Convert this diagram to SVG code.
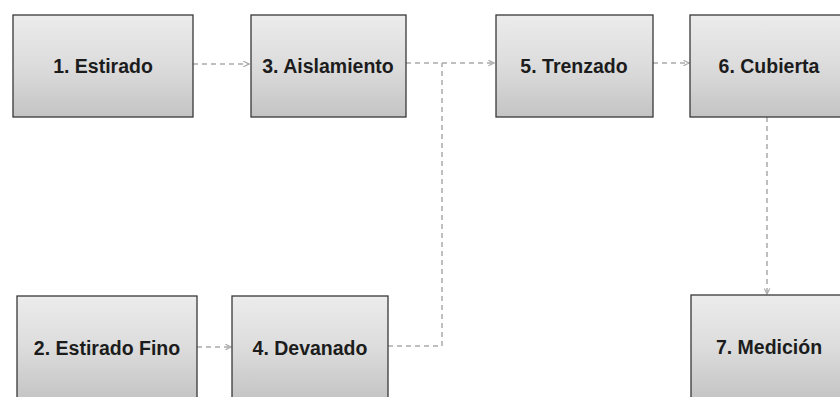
<svg xmlns="http://www.w3.org/2000/svg" width="840" height="397" viewBox="0 0 840 397">
<defs>
<linearGradient id="g" x1="0" y1="0" x2="0" y2="1">
<stop offset="0" stop-color="#ececec"/>
<stop offset="0.5" stop-color="#dcdcdc"/>
<stop offset="1" stop-color="#c4c4c4"/>
</linearGradient>
<marker id="arr" viewBox="0 0 10 10" refX="9" refY="5" markerWidth="7" markerHeight="7" markerUnits="userSpaceOnUse" orient="auto">
<path d="M1,1 L9,5 L1,9" fill="none" stroke="#a8a8a8" stroke-width="1.6"/>
</marker>
<style>
.box{fill:url(#g);stroke:#383838;stroke-width:1.3}
.lbl{font-family:"Liberation Sans",Arial,sans-serif;font-weight:bold;font-size:19.5px;fill:#1c1c1c;text-anchor:middle}
.con{fill:none;stroke:#ababab;stroke-width:1.5;stroke-dasharray:5 4}
</style>
</defs>
<rect width="840" height="397" fill="#ffffff"/>
<g id="connectors">
<path class="con" d="M193,64 L249,64" marker-end="url(#arr)"/>
<path class="con" d="M406,63 L494,63" marker-end="url(#arr)"/>
<path class="con" d="M388,346 L442,346 L442,63"/>
<path class="con" d="M653,63 L689,63" marker-end="url(#arr)"/>
<path class="con" d="M767,117 L767,294" marker-end="url(#arr)"/>
<path class="con" d="M197,347 L231,347" marker-end="url(#arr)"/>
</g>
<g id="n1"><rect class="box" x="13" y="15" width="180" height="102"/><text class="lbl" x="103" y="73">1. Estirado</text></g>
<g id="n3"><rect class="box" x="251" y="15" width="155" height="102"/><text class="lbl" x="328" y="73">3. Aislamiento</text></g>
<g id="n5"><rect class="box" x="496" y="15" width="157" height="102"/><text class="lbl" x="574" y="73">5. Trenzado</text></g>
<g id="n6"><rect class="box" x="690" y="15" width="157" height="102"/><text class="lbl" x="769" y="73">6. Cubierta</text></g>
<g id="n2"><rect class="box" x="17" y="296" width="180" height="104"/><text class="lbl" x="107" y="355">2. Estirado Fino</text></g>
<g id="n4"><rect class="box" x="232" y="296" width="156" height="104"/><text class="lbl" x="310" y="355">4. Devanado</text></g>
<g id="n7"><rect class="box" x="691" y="295" width="157" height="105"/><text class="lbl" x="769" y="354">7. Medición</text></g>
</svg>
